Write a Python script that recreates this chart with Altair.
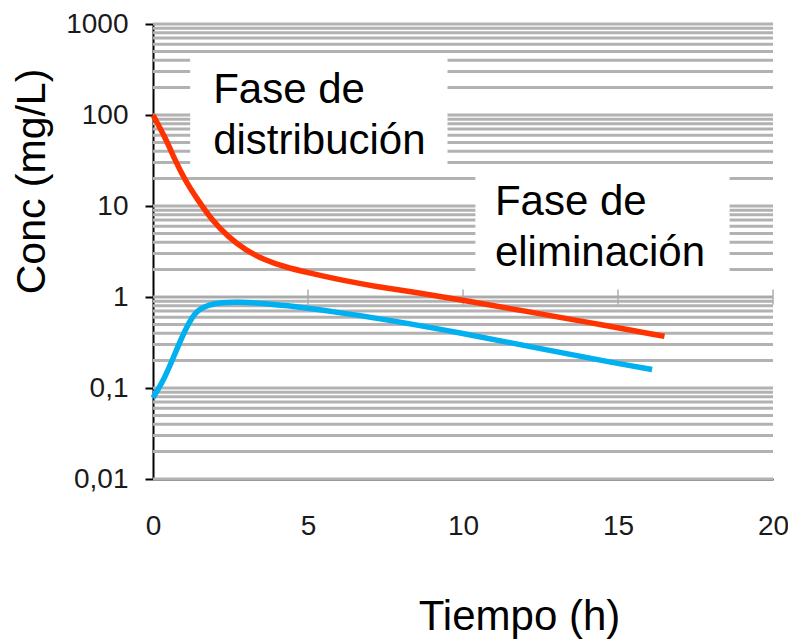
import altair as alt
import pandas as pd

# Data
red_t = [0, 0.39, 0.71, 1.03, 1.45, 1.9, 2.42, 2.97, 3.6, 4.26, 5.0, 6.0, 7.2, 8.5, 10, 12, 14, 16.5]
red_c = [100, 57, 32, 19.3, 11.6, 7.0, 4.6, 3.3, 2.55, 2.14, 1.85, 1.55, 1.3, 1.12, 0.92, 0.70, 0.53, 0.37]
blue_t = [0, 0.39, 0.71, 1.03, 1.26, 1.45, 1.77, 2.23, 2.74, 3.3, 3.84, 4.7, 5.8, 7.2, 10, 12.5, 15, 16.1]
blue_c = [0.078, 0.13, 0.24, 0.43, 0.60, 0.72, 0.82, 0.87, 0.88, 0.86, 0.83, 0.78, 0.69, 0.59, 0.40, 0.27, 0.185, 0.16]

y_ticks = [0.01, 0.1, 1, 10, 100, 1000]
x_ticks = [0, 5, 10, 15, 20]
grid_vals = [m * 10.0 ** k for k in range(-2, 3) for m in range(1, 10)] + [1000]

# annotation boxes (data coords)
box_x1 = [1.2, 10.4]
box_x2 = [9.5, 18.6]
box_y1 = [28, 1.84]
box_y2 = [480, 28]
ann_x = [1.94, 11.03]
ann_y = [135, 7.96]
ann_text = [["Fase de", "distribución"], ["Fase de", "eliminación"]]

red = pd.DataFrame({"t": red_t, "c": red_c})
blue = pd.DataFrame({"t": blue_t, "c": blue_c})
grid = pd.DataFrame({"v": grid_vals})
boxes = pd.DataFrame({"x1": box_x1, "x2": box_x2, "y1": box_y1, "y2": box_y2})
ann = pd.DataFrame({"x": ann_x, "y": ann_y, "text": ann_text})
xt = pd.DataFrame({"t": x_ticks[1:], "c": [1] * 4})

W, H = 620, 455
xs = alt.Scale(domain=[0, 20], nice=False, zero=False)
ys = alt.Scale(type="log", domain=[0.01, 1000], nice=False)

num_font = "Liberation Sans, Arial, sans-serif"
txt_font = "Liberation Sans, Arial, sans-serif"

x_axis = alt.Axis(
    values=x_ticks, title="Tiempo (h)", grid=False, ticks=False, labelFlush=False,
    domainColor="black", domainWidth=2, labelFont=num_font, labelFontSize=28,
    labelColor="#1a1a1a", labelPadding=33, labelBaseline="top",
    titleFont=txt_font, titleFontSize=42, titleFontWeight="normal", titleColor="black",
    titleX=366, titleY=150, titleBaseline="alphabetic", titleAlign="center",
)
y_axis = alt.Axis(
    values=y_ticks, title="Conc (mg/L)", grid=False, ticks=True, tickSize=8,
    tickWidth=2, tickColor="black", domainColor="black", domainWidth=2,
    labelFont=num_font, labelFontSize=28, labelColor="#1a1a1a", labelPadding=17,
    labelExpr="datum.value >= 1 ? format(datum.value, 'd') : replace(toString(datum.value), '.', ',')",
    titleFont=txt_font, titleFontSize=41, titleFontWeight="normal", titleColor="black",
    titleAngle=270, titleX=-109, titleY=157, titleBaseline="alphabetic", titleAlign="center",
)

gridlines = alt.Chart(grid).mark_rule(color="#b2b2b2", strokeWidth=3).encode(
    y=alt.Y("v:Q", scale=ys, axis=y_axis),
    x=alt.value(0), x2=alt.value(W),
)

mid_rule = alt.Chart(pd.DataFrame({"c": [1]})).mark_rule(color="#aaaaaa", strokeWidth=2).encode(
    y=alt.Y("c:Q", scale=ys), x=alt.value(0), x2=alt.value(W)
)
mid_ticks = alt.Chart(xt).mark_tick(color="#aaaaaa", thickness=2, size=15, orient="vertical").encode(
    x=alt.X("t:Q", scale=xs), y=alt.Y("c:Q", scale=ys)
)

box_layer = alt.Chart(boxes).mark_rect(color="white").encode(
    x=alt.X("x1:Q", scale=xs), x2="x2:Q",
    y=alt.Y("y1:Q", scale=ys), y2="y2:Q",
)
text_layer = alt.Chart(ann).mark_text(
    font=txt_font, fontSize=42, align="left", baseline="alphabetic",
    lineHeight=51, color="black",
).encode(x=alt.X("x:Q", scale=xs), y=alt.Y("y:Q", scale=ys), text="text")

red_line = alt.Chart(red).mark_line(color="#ff3300", strokeWidth=5.5, interpolate="basis").encode(
    x=alt.X("t:Q", scale=xs, axis=x_axis), y=alt.Y("c:Q", scale=ys)
)
blue_line = alt.Chart(blue).mark_line(color="#00b0f0", strokeWidth=5.5, interpolate="basis").encode(
    x=alt.X("t:Q", scale=xs), y=alt.Y("c:Q", scale=ys)
)

chart = alt.layer(
    gridlines, mid_rule, mid_ticks, box_layer, text_layer, blue_line, red_line
).properties(
    width=W, height=H,
    autosize=alt.AutoSizeParams(type="none"),
    padding={"left": 153, "top": 24, "right": 15, "bottom": 160},
    background="white",
).configure_view(stroke=None)

chart.save("out.html", embed_options={"renderer": "svg", "actions": False})
